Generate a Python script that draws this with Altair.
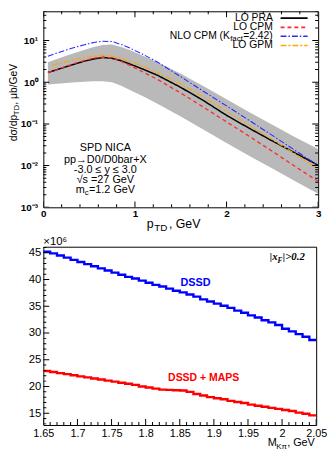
import altair as alt
import pandas as pd

# ---------------- upper panel: D0 pT spectrum at SPD NICA ----------------
pt = [0.05, 0.15, 0.25, 0.35, 0.45, 0.55, 0.65, 0.75, 0.85, 0.95,
      1.1, 1.25, 1.5, 1.75, 2.0, 2.25, 2.5, 2.75, 3.0]
lo_pra = [1.7, 2.0, 2.35, 2.75, 3.2, 3.6, 3.9, 3.75, 3.25, 2.7,
          2.0, 1.45, 0.75, 0.36, 0.16, 0.078, 0.039, 0.02, 0.0102]
lo_cpm = [1.7, 2.0, 2.4, 2.85, 3.3, 3.75, 4.0, 3.8, 3.15, 2.5,
          1.7, 1.15, 0.55, 0.25, 0.112, 0.05, 0.022, 0.0095, 0.0042]
nlo_cpm = [4.2, 5.0, 5.9, 6.9, 7.9, 8.9, 9.6, 9.4, 8.0, 6.5,
           4.5, 3.0, 1.35, 0.6, 0.27, 0.12, 0.053, 0.023, 0.0100]
pt_gpm = [0.1, 0.15, 0.25, 0.35, 0.45, 0.55, 0.65, 0.75, 0.85, 0.95,
          1.1, 1.25, 1.5, 1.75, 2.0, 2.25, 2.5, 2.75, 3.0]
lo_gpm = [2.6, 2.75, 3.1, 3.5, 3.9, 4.25, 4.4, 4.25, 3.75, 3.15,
          2.35, 1.7, 0.9, 0.44, 0.2, 0.092, 0.042, 0.019, 0.0083]
pra_low = [0.88, 0.92, 0.96, 1.0, 1.02, 1.05, 1.05, 1.0, 0.82, 0.64,
           0.45, 0.3, 0.15, 0.072, 0.035, 0.017, 0.0085, 0.0042, 0.0021]
pra_high = [3.0, 3.6, 4.3, 5.1, 6.0, 7.0, 7.8, 8.0, 7.0, 5.8,
            4.2, 3.0, 1.6, 0.8, 0.39, 0.19, 0.095, 0.048, 0.025]

# ---------------- lower panel: yield vs invariant mass ----------------
mass = [1.65, 1.66, 1.67, 1.68, 1.69, 1.70, 1.71, 1.72, 1.73, 1.74,
        1.75, 1.76, 1.77, 1.78, 1.79, 1.80, 1.81, 1.82, 1.83, 1.84,
        1.85, 1.86, 1.87, 1.88, 1.89, 1.90, 1.91, 1.92, 1.93, 1.94,
        1.95, 1.96, 1.97, 1.98, 1.99, 2.00, 2.01, 2.02, 2.03, 2.04]
mass_end = 2.05
dssd = [45.2, 44.9, 44.5, 44.1, 43.7, 43.3, 42.9, 42.5, 42.1, 41.7,
        41.3, 40.9, 40.5, 40.2, 39.8, 39.4, 39.0, 38.7, 38.3, 37.9,
        37.6, 37.2, 36.8, 36.3, 35.9, 35.5, 35.1, 34.7, 34.2, 33.8,
        33.3, 32.9, 32.4, 32.0, 31.5, 30.8, 30.3, 29.8, 29.3, 28.7]
dssd_maps = [22.9, 22.7, 22.5, 22.3, 22.1, 21.9, 21.7, 21.5, 21.3, 21.1,
             20.9, 20.7, 20.5, 20.3, 20.0, 19.8, 19.6, 19.4, 19.35, 19.3,
             19.25, 19.0, 18.6, 18.3, 18.0, 17.8, 17.6, 17.3, 17.1, 16.9,
             16.6, 16.4, 16.2, 16.0, 15.8, 15.6, 15.4, 15.1, 14.9, 14.6]

SANS = "Liberation Sans"
SERIF = "Liberation Serif"

# ================= scales and axes =================
xs1 = alt.Scale(domain=[0, 3], nice=False, zero=False)
ys1 = alt.Scale(type="log", domain=[0.001, 50], nice=False)
x_axis1 = alt.Axis(values=[0, 1, 2, 3], format="d", labelFont=SANS, labelFontSize=10,
                   labelFontWeight="bold", labelPadding=1, labelFlush=False,
                   labelOverlap=False, title=None, tickSize=0, ticks=False,
                   domain=False, grid=False)
y_axis1 = alt.Axis(values=[0.001, 0.01, 0.1, 1, 10], labelFont=SANS, labelFontSize=10,
                   labelFontWeight="bold", labelPadding=6, labelOverlap=False,
                   title=None, tickSize=0, ticks=False, domain=False, grid=False,
                   labelExpr="datum.value < 0.005 ? '10⁻³' : datum.value < 0.05 ? '10⁻²' : "
                             "datum.value < 0.5 ? '10⁻¹' : datum.value < 5 ? '10⁰' : '10¹'")

xs2 = alt.Scale(domain=[1.65, 2.05], nice=False, zero=False)
ys2 = alt.Scale(domain=[12.79, 46.15], nice=False, zero=False)
x_major2 = [1.65, 1.7, 1.75, 1.8, 1.85, 1.9, 1.95, 2.0, 2.05]
y_major2 = [15, 20, 25, 30, 35, 40, 45]
x_axis2 = alt.Axis(values=x_major2, format="~g", labelFont=SANS, labelFontSize=11,
                   labelPadding=3, labelFlush=False, labelOverlap=False,
                   title=None, tickSize=0, ticks=False, domain=False, grid=False)
y_axis2 = alt.Axis(values=y_major2, labelFont=SANS, labelFontSize=11.5, labelPadding=2.5,
                   labelOverlap=False, title=None, tickSize=0, ticks=False,
                   domain=False, grid=False)

P1 = (xs1, ys1, x_axis1, y_axis1)
P2 = (xs2, ys2, x_axis2, y_axis2)


# ---------------- helpers ----------------
def enc(panel, xf="x", yf="y"):
    xs, ys, xa, ya = panel
    return dict(x=alt.X(f"{xf}:Q", scale=xs, axis=xa),
                y=alt.Y(f"{yf}:Q", scale=ys, axis=ya))


def note(panel, xv, yv, strings, **mark):
    df = pd.DataFrame({"x": xv, "y": yv, "t": strings})
    return alt.Chart(df).mark_text(**mark).encode(text="t:N", **enc(panel))


def inner_ticks(panel, xv, yv, length, orient):
    # tick marks drawn inward from the frame; the outer half is clipped away
    df = pd.DataFrame({"x": xv, "y": yv})
    return alt.Chart(df).mark_tick(orient=orient, size=2 * length, thickness=1,
                                   color="black", clip=True, opacity=1).encode(**enc(panel))


# ================= upper panel =================
band_df = pd.DataFrame({"x": pt, "lo": pra_low, "hi": pra_high})
band = alt.Chart(band_df).mark_area(color="#b9b9b9", opacity=1, clip=True).encode(
    y2="hi:Q", **enc(P1, "x", "lo"))

styles = [
    ("LO PRA", pt, lo_pra, "#000000", [1, 0], 1.5, 34.2),
    ("LO CPM", pt, lo_cpm, "#ff2a2a", [4, 3], 1.3, 20.6),
    ("NLO CPM", pt, nlo_cpm, "#2a2aff", [6, 2, 1.5, 2], 1.1, 12.6),
    ("LO GPM", pt_gpm, lo_gpm, "#ffa500", [6, 2, 2, 2], 1.1, 7.59),
]

layers1 = [band]
for name, xv, yv, col, dash, w, ly in styles:
    df = pd.DataFrame({"x": xv, "y": yv})
    layers1.append(alt.Chart(df).mark_line(color=col, strokeDash=dash, strokeWidth=w,
                                           clip=True).encode(**enc(P1)))
    key = pd.DataFrame({"x": [2.59], "x2": [2.885], "y": [ly]})
    layers1.append(alt.Chart(key).mark_rule(color=col, strokeDash=dash,
                                            strokeWidth=w + 0.4).encode(
        x2="x2:Q", **enc(P1)))

# legend texts
leg = dict(font=SANS, fontSize=10.5, align="right", baseline="middle", color="black")
layers1 += [
    note(P1, [2.505, 2.505, 2.505], [34.2, 20.6, 7.59],
         ["LO PRA", "LO CPM", "LO GPM"], **leg),
    note(P1, [2.505], [12.6], ["=2.42)"], **leg),
    note(P1, [2.505], [12.6], ["fact"], dx=-30.4, dy=3, **{**leg, "fontSize": 8}),
    note(P1, [2.505], [12.6], ["NLO CPM (K"], dx=-43.5, **leg),
]

# process description
blk = dict(font=SANS, fontSize=11, align="center", baseline="middle", color="black")
layers1 += [
    note(P1, [0.677] * 4, [0.0261, 0.0136, 0.00788, 0.00458],
         ["SPD NICA", "pp→D0/D0bar+X", "-3.0  ≤ y ≤ 3.0", "√s =27 GeV"], **blk),
    note(P1, [0.677], [0.00266], ["m"], dx=-30, **{**blk, "align": "left"}),
    note(P1, [0.677], [0.00266], ["c"], dx=-20.8, dy=3,
         **{**blk, "align": "left", "fontSize": 8}),
    note(P1, [0.677], [0.00266], ["=1.2 GeV"], dx=-16.6, **{**blk, "align": "left"}),
]

# axis titles with subscripts
xt = dict(font=SANS, fontSize=12.5, align="left", baseline="alphabetic", color="black")
layers1 += [
    note(P1, [1.129], [3.19e-4], ["p"], **xt),
    note(P1, [1.129], [3.19e-4], ["TD"], dx=7.6, dy=3, **{**xt, "fontSize": 10}),
    note(P1, [1.129], [3.19e-4], [", GeV"], dx=22.5, **xt),
]
yt = dict(font=SANS, fontSize=10.5, align="left", baseline="alphabetic", angle=270,
          color="black")
layers1 += [
    note(P1, [-0.29], [0.0382], ["dσ/dp"], **yt),
    note(P1, [-0.29], [0.0382], ["TD"], dx=26.4, dy=2.6, **{**yt, "fontSize": 8}),
    note(P1, [-0.29], [0.0382], [", μb/GeV"], dx=37.1, **yt),
]

# inward tick marks on all four sides
y_major1 = [0.001, 0.01, 0.1, 1, 10]
y_minor1 = [m * 10.0 ** k for k in range(-3, 2) for m in range(2, 10) if m * 10.0 ** k <= 50]
x_major1 = [0, 1, 2, 3]
x_minor1 = [0.2, 0.4, 0.6, 0.8, 1.2, 1.4, 1.6, 1.8, 2.2, 2.4, 2.6, 2.8]
for xe in (0, 3):
    layers1.append(inner_ticks(P1, [xe] * len(y_major1), y_major1, 6, "horizontal"))
    layers1.append(inner_ticks(P1, [xe] * len(y_minor1), y_minor1, 3, "horizontal"))
for ye in (0.001, 50):
    layers1.append(inner_ticks(P1, x_major1, [ye] * len(x_major1), 6, "vertical"))
    layers1.append(inner_ticks(P1, x_minor1, [ye] * len(x_minor1), 3, "vertical"))

top = alt.layer(*layers1).properties(width=279, height=199)

# ================= lower panel =================
hist_dssd = pd.DataFrame({"x": mass + [mass_end], "y": dssd + [dssd[-1]]})
hist_maps = pd.DataFrame({"x": mass + [mass_end], "y": dssd_maps + [dssd_maps[-1]]})

layers2 = [
    alt.Chart(hist_dssd).mark_line(interpolate="step-after", color="#0000ff",
                                   strokeWidth=2.4, clip=True).encode(**enc(P2)),
    alt.Chart(hist_maps).mark_line(interpolate="step-after", color="#ff0000",
                                   strokeWidth=2.4, clip=True).encode(**enc(P2)),
]

layers2 += [
    note(P2, [1.873], [39.3], ["DSSD"], font=SANS, fontSize=11, fontWeight="bold",
         color="#0000ff", align="center", baseline="middle"),
    note(P2, [1.885], [21.5], ["DSSD + MAPS"], font=SANS, fontSize=10.6,
         fontWeight="bold", color="#ff0000", align="center", baseline="middle"),
    note(P2, [1.65], [46.15], ["×10⁶"], font=SANS, fontSize=11.5, align="left",
         baseline="alphabetic", dy=-1.5, color="black"),
]
xf = dict(font=SERIF, fontSize=11, fontStyle="italic", fontWeight="bold", align="left",
          baseline="alphabetic", color="black")
layers2 += [
    note(P2, [1.982], [43.58], ["|x"], **xf),
    note(P2, [1.982], [43.58], ["F"], dx=7.9, dy=2.5, **{**xf, "fontSize": 7.5}),
    note(P2, [1.982], [43.58], ["|>0.2"], dx=13.2, **xf),
]
mt = dict(font=SANS, fontSize=11, align="right", baseline="alphabetic", color="black")
layers2 += [
    note(P2, [2.048], [8.8], [", GeV"], **mt),
    note(P2, [2.048], [8.8], ["Kπ"], dx=-28.3, dy=3, **{**mt, "fontSize": 8}),
    note(P2, [2.048], [8.8], ["M"], dx=-38.5, **mt),
]

y_minor2 = [v for v in range(13, 47) if v % 5 != 0]
x_minor2 = [1.66, 1.67, 1.68, 1.69, 1.71, 1.72, 1.73, 1.74, 1.76, 1.77, 1.78, 1.79,
            1.81, 1.82, 1.83, 1.84, 1.86, 1.87, 1.88, 1.89, 1.91, 1.92, 1.93, 1.94,
            1.96, 1.97, 1.98, 1.99, 2.01, 2.02, 2.03, 2.04]
layers2 += [
    inner_ticks(P2, [1.65] * len(y_major2), y_major2, 6, "horizontal"),
    inner_ticks(P2, [1.65] * len(y_minor2), y_minor2, 3, "horizontal"),
    inner_ticks(P2, x_major2, [12.79] * len(x_major2), 6, "vertical"),
    inner_ticks(P2, x_minor2, [12.79] * len(x_minor2), 3, "vertical"),
]

bottom = alt.layer(*layers2).properties(width=277, height=181)

chart = alt.vconcat(top, bottom, spacing=2).properties(
    padding={"left": 8, "top": 7, "right": 0, "bottom": 0},
    background="white",
).configure_view(stroke="black", strokeWidth=1).configure_axis(
    grid=False, domain=False, ticks=False, labelColor="black")

chart.save("out.html", embed_options={"renderer": "svg", "actions": False})
